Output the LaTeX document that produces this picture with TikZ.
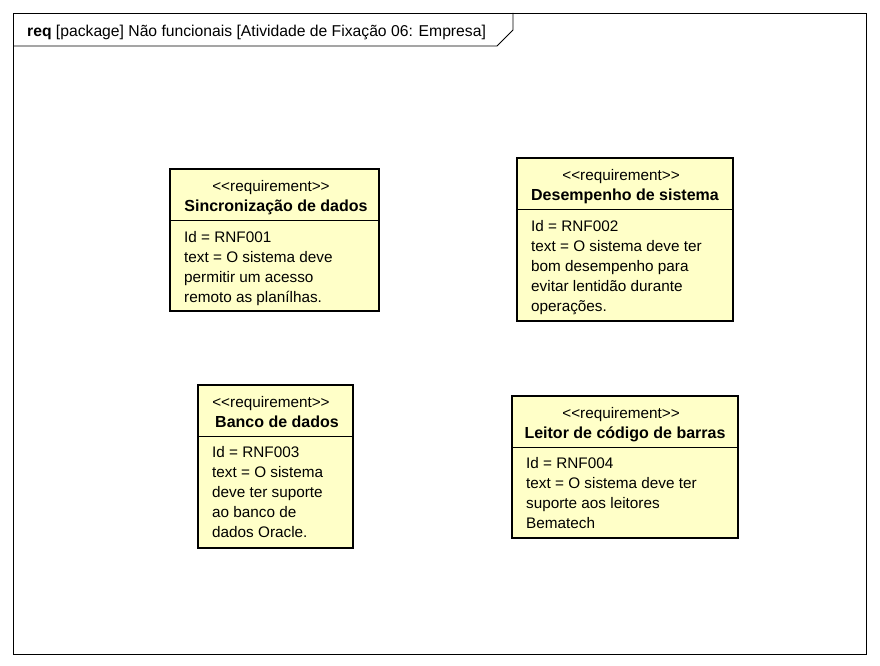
\documentclass[tikz,border=0pt]{standalone}
\usepackage{fontspec}
\setmainfont{Liberation Sans}
\definecolor{reqfill}{RGB}{255,255,200}
\begin{document}
\begin{tikzpicture}[x=1pt,y=-1pt,
  frameline/.style={draw=black, line width=0.8pt},
  reqbox/.style={draw=black, line width=2pt, fill=reqfill},
  divline/.style={draw=black, line width=0.8pt},
  st/.style={font=\fontsize{15.3}{18}\selectfont, inner sep=0pt, anchor=base},
  ttl/.style={font=\fontsize{16}{18}\selectfont\bfseries, inner sep=0pt, anchor=base},
  bd/.style={font=\fontsize{15.3}{18}\selectfont, inner sep=0pt, anchor=base west}
]
\useasboundingbox (0,0) rectangle (880,666);
\fill[white] (0,0) rectangle (880,666);
% frame
\draw[frameline] (13,13) rectangle (866,654);
\draw[frameline] (13,46) -- (497,46) -- (513,30) -- (513,13);
\node[inner sep=0pt, anchor=base west, font=\fontsize{15.7}{18}\selectfont] (hdr) at (27,37) {\textbf{req} [package] Não funcionais [Atividade de Fixação 06: Empresa]};

% Box 1
\draw[reqbox] (170,169) rectangle (379,311);
\draw[divline] (170,220) -- (379,220);
\node[st] (b1s) at (271,191) {<{}<requirement>{}>};
\node[ttl] (b1t) at (276,211) {Sincronização de dados};
\node[bd] (b1a) at (184,242) {Id = RNF001};
\node[bd] (b1b) at (184,262) {text = O sistema deve};
\node[bd] (b1c) at (184,282) {permitir um acesso};
\node[bd] (b1d) at (184,302) {remoto as planílhas.};

% Box 2
\draw[reqbox] (517,158) rectangle (733,321);
\draw[divline] (517,209) -- (733,209);
\node[st] (b2s) at (621,180) {<{}<requirement>{}>};
\node[ttl] (b2t) at (625,200) {Desempenho de sistema};
\node[bd] (b2a) at (531,231) {Id = RNF002};
\node[bd] (b2b) at (531,251) {text = O sistema deve ter};
\node[bd] (b2c) at (531,271) {bom desempenho para};
\node[bd] (b2d) at (531,291) {evitar lentidão durante};
\node[bd] (b2e) at (531,311) {operações.};

% Box 3
\draw[reqbox] (198,385) rectangle (353,548);
\draw[divline] (198,436) -- (353,436);
\node[st] (b3s) at (271,407) {<{}<requirement>{}>};
\node[ttl] (b3t) at (277,427) {Banco de dados};
\node[bd] (b3a) at (212,457) {Id = RNF003};
\node[bd] (b3b) at (212,477) {text = O sistema};
\node[bd] (b3c) at (212,497) {deve ter suporte};
\node[bd] (b3d) at (212,517) {ao banco de};
\node[bd] (b3e) at (212,537) {dados Oracle.};

% Box 4
\draw[reqbox] (512,396) rectangle (738,538);
\draw[divline] (512,447) -- (738,447);
\node[st] (b4s) at (621,418) {<{}<requirement>{}>};
\node[ttl] (b4t) at (625,438) {Leitor de código de barras};
\node[bd] (b4a) at (526,468) {Id = RNF004};
\node[bd] (b4b) at (526,488) {text = O sistema deve ter};
\node[bd] (b4c) at (526,508) {suporte aos leitores};
\node[bd] (b4d) at (526,528) {Bematech};
\end{tikzpicture}
\end{document}
